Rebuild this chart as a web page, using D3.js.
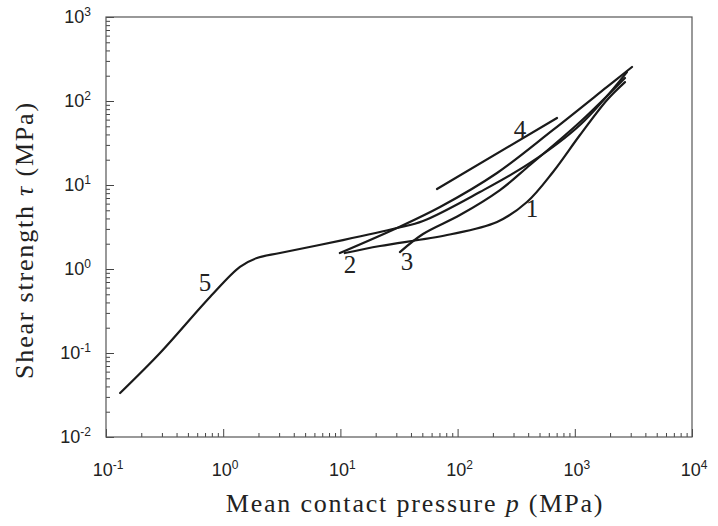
<!DOCTYPE html>
<html>
<head>
<meta charset="UTF-8">
<title>Shear strength vs pressure</title>
<script src="https://cdn.jsdelivr.net/npm/d3@7"></script>
<style>
  body { margin: 0; background: #fff; }
  .tick-label { font-family: "Liberation Sans", Arial, sans-serif; font-size: 18px; fill: #222; }
  .title { font-family: "Liberation Serif", "DejaVu Serif", serif; font-size: 26px; letter-spacing: 1.8px; fill: #222; }
  .curve-label { font-family: "Liberation Serif", "DejaVu Serif", serif; font-size: 25px; fill: #222; }
</style>
</head>
<body>
<script>
// curve data (p in MPa, tau in MPa)
var p1 = [10.9, 21.8, 81.3, 217, 391, 652, 1107, 1884, 2680];
var tau1 = [1.55, 1.88, 2.54, 3.63, 6.28, 14.3, 39.4, 103, 168];

var p2 = [9.9, 30.4, 70.8, 217, 652, 1884, 3076];
var tau2 = [1.55, 3.08, 5.47, 13.9, 45.2, 147, 254];

var p3 = [32.2, 50.7, 104.7, 230, 415, 1107, 2680];
var tau3 = [1.59, 2.61, 4.39, 8.71, 17.3, 56.2, 188];

var p4 = [66.7, 705];
var tau4 = [8.96, 62.8];

var p5 = [0.132, 0.289, 0.772, 1.39, 1.94, 3.05, 10.5, 30.4, 50.7, 155, 415, 1107, 2786];
var tau5 = [0.0334, 0.1, 0.464, 1.06, 1.35, 1.55, 2.21, 3.08, 3.73, 8.25, 18.3, 51.8, 221];

// curve number labels: name, p, tau
var labelNames = ['1', '2', '3', '4', '5'];
var labelP = [431, 12.1, 37.0, 340, 0.70];
var labelTau = [5.32, 1.147, 1.245, 46.4, 0.70];

var xMajor = [-1, 0, 1, 2, 3, 4];
var yMajor = [-2, -1, 0, 1, 2, 3];

var width = 718, height = 526;
var margin = {top: 17, right: 26, bottom: 89, left: 106};

var svg = d3.select('body').append('svg')
  .attr('width', width)
  .attr('height', height);

var x = d3.scaleLog().domain([0.1, 1e4]).range([margin.left, width - margin.right]);
var y = d3.scaleLog().domain([0.01, 1000]).range([height - margin.bottom, margin.top]);

function minors(lo, hi) {
  var out = [];
  for (var e = lo; e < hi; e++) {
    for (var k = 2; k <= 9; k++) out.push(k * Math.pow(10, e));
  }
  return out;
}

// minor and major ticks, pointing inward
var gx = svg.append('g').attr('transform', 'translate(0,' + y(0.01) + ')');
gx.call(d3.axisBottom(x).tickValues(minors(-1, 4)).tickSize(-4).tickFormat(''));
gx.append('g').call(d3.axisBottom(x).tickValues(xMajor.map(function(e) { return Math.pow(10, e); })).tickSize(-8).tickFormat(''));

var gy = svg.append('g').attr('transform', 'translate(' + x(0.1) + ',0)');
gy.call(d3.axisLeft(y).tickValues(minors(-2, 3)).tickSize(-4).tickFormat(''));
gy.append('g').call(d3.axisLeft(y).tickValues(yMajor.map(function(e) { return Math.pow(10, e); })).tickSize(-8).tickFormat(''));

svg.selectAll('.domain').remove();
svg.selectAll('.tick line').attr('stroke', '#444').attr('stroke-width', 1);

// frame
svg.append('rect')
  .attr('x', x(0.1)).attr('y', y(1000))
  .attr('width', x(1e4) - x(0.1)).attr('height', y(0.01) - y(1000))
  .attr('fill', 'none').attr('stroke', '#555').attr('stroke-width', 1.2);

// tick labels with superscripts
var xl = svg.selectAll('.xlab').data(xMajor).enter().append('text')
  .attr('class', 'tick-label')
  .attr('x', function(d) { return x(Math.pow(10, d)) + 2; })
  .attr('y', 476)
  .attr('text-anchor', 'middle');
xl.append('tspan').text('10');
xl.append('tspan').attr('dy', -7).style('font-size', '12px').text(function(d) { return d; });

var yl = svg.selectAll('.ylab').data(yMajor).enter().append('text')
  .attr('class', 'tick-label')
  .attr('x', 91)
  .attr('y', function(d) { return y(Math.pow(10, d)) + 6; })
  .attr('text-anchor', 'end');
yl.append('tspan').text('10');
yl.append('tspan').attr('dy', -7).style('font-size', '12px').text(function(d) { return d; });

// axis titles
var xt = svg.append('text').attr('class', 'title')
  .attr('x', 415).attr('y', 512).attr('text-anchor', 'middle');
xt.append('tspan').text('Mean contact pressure ');
xt.append('tspan').style('font-style', 'italic').text('p');
xt.append('tspan').text(' (MPa)');

var yt = svg.append('text').attr('class', 'title')
  .attr('transform', 'translate(33,240) rotate(-90)')
  .attr('text-anchor', 'middle');
yt.append('tspan').text('Shear strength ');
yt.append('tspan').style('font-style', 'italic').text('τ');
yt.append('tspan').text(' (MPa)');

// curves
var curves = [[p1, tau1], [p2, tau2], [p3, tau3], [p4, tau4], [p5, tau5]];
var line = d3.line()
  .x(function(d) { return x(d[0]); })
  .y(function(d) { return y(d[1]); })
  .curve(d3.curveCatmullRom.alpha(0.5));

svg.selectAll('.curve').data(curves).enter().append('path')
  .attr('class', 'curve')
  .attr('d', function(c) { return line(d3.zip(c[0], c[1])); })
  .attr('fill', 'none')
  .attr('stroke', '#1a1a1a')
  .attr('stroke-width', 2.2)
  .attr('stroke-linecap', 'round');

svg.selectAll('.clab').data(labelNames).enter().append('text')
  .attr('class', 'curve-label')
  .attr('x', function(d, i) { return x(labelP[i]); })
  .attr('y', function(d, i) { return y(labelTau[i]) + 9; })
  .attr('text-anchor', 'middle')
  .text(function(d) { return d; });
</script>
</body>
</html>
